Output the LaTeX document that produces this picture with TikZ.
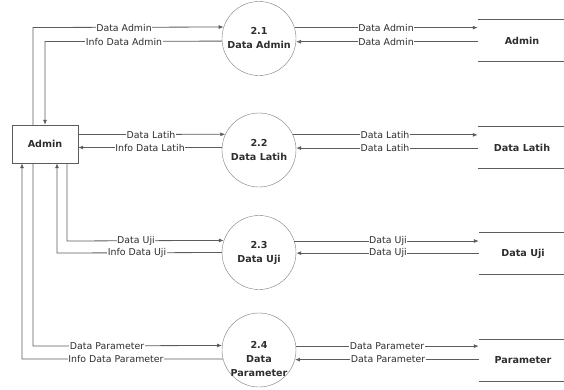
\documentclass[tikz,border=0pt]{standalone}
\usepackage{fontspec}
\setmainfont{DejaVu Sans}
\usetikzlibrary{arrows.meta}
\definecolor{linec}{HTML}{5C5C5C}
\definecolor{txtc}{HTML}{2E2E2E}
\tikzset{
  proc/.style={circle, draw=linec!80, minimum size=74pt, inner sep=0pt, align=center,
    text=txtc, font=\fontsize{9.6}{14}\selectfont\bfseries},
  ent/.style={rectangle, draw=linec, minimum width=66pt, minimum height=38pt,
    text=txtc, font=\fontsize{9.6}{12}\selectfont\bfseries},
  store/.style={minimum width=88pt, minimum height=41pt, inner sep=0pt,
    text=txtc, font=\fontsize{9.6}{12}\selectfont\bfseries},
  flow/.style={draw=linec, line width=0.8pt, -{Latex[length=5pt,width=4pt]}},
  lbl/.style={fill=white, inner sep=0.6pt, text=txtc, font=\fontsize{9.4}{11}\selectfont}
}
\begin{document}
\begin{tikzpicture}[x=1pt, y=-1pt]
      \useasboundingbox (0,0) rectangle (564,389);
      % entity and processes
      \node (admin) [ent] at (45,144) {Admin};
      \node (p1) [proc] at (259,38.5) {2.1\\Data Admin};
      \node (p2) [proc] at (259,150) {2.2\\Data Latih};
      \node (p3) [proc] at (259,252.5) {2.3\\Data Uji};
      \node (p4) [proc, label={[yshift=-9pt, align=center, text=txtc,
            font=\fontsize{9.6}{14}\selectfont\bfseries]center:2.4\\Data\\Parameter}]
            at (259,350) {};
      % data stores
      \node (s1) [store] at (522,40.5) {Admin};
      \node (s2) [store] at (522,147.5) {Data Latih};
      \node (s3) [store] at (523,253.5) {Data Uji};
      \node (s4) [store] at (523,360.5) {Parameter};
      \foreach \s in {s1,s2,s3,s4}
        \draw [linec, line width=0.8pt] (\s.north west) -- (\s.north east)
                                        (\s.south west) -- (\s.south east);
      % bends next to the entity
      \coordinate (b1) at (33,27.5);
      \coordinate (b2) at (45,41.5);
      \coordinate (b3) at (67,241);
      \coordinate (b4) at (57,253);
      \coordinate (b5) at (33,346);
      \coordinate (b6) at (22,359);
      % entity <-> processes
      \draw [flow] (admin.north -| b1) -- (b1) -- (p1.162.7);
      \draw [flow] (p1.184.65) -- (b2) -- (admin.north -| b2);
      \draw [flow] (admin.east |- 0,134.5) -- (p2.155.2);
      \draw [flow] (p2.176.1) -- (admin.east |- 0,147.5);
      \draw [flow] (admin.south -| b3) -- (b3) -- (p3.161.9);
      \draw [flow] (p3.180.8) -- (b4) -- (admin.south -| b4);
      \draw [flow] (admin.south -| b5) -- (b5) -- (p4.173.8);
      \draw [flow] (p4.194.1) -- (b6) -- (admin.south -| b6);
      % processes <-> stores
      \draw [flow] (p1.17.3) -- (p1.17.3 -| s1.west);
      \draw [flow] (s1.west |- p1.355.35) -- (p1.355.35);
      \draw [flow] (p2.24.8) -- (p2.24.8 -| s2.west);
      \draw [flow] (s2.west |- p2.3.9) -- (p2.3.9);
      \draw [flow] (p3.18.1) -- (p3.18.1 -| s3.west);
      \draw [flow] (s3.west |- p3.359.2) -- (p3.359.2);
      \draw [flow] (p4.6.2) -- (p4.6.2 -| s4.west);
      \draw [flow] (s4.west |- p4.345.9) -- (p4.345.9);
      % flow labels
      \node (l1) [lbl] at (124,27.5) {Data Admin};
      \node (l2) [lbl] at (124,41.5) {Info Data Admin};
      \node (l3) [lbl] at (151,134.5) {Data Latih};
      \node (l4) [lbl] at (150,147.5) {Info Data Latih};
      \node (l5) [lbl] at (136,241) {Data Uji};
      \node (l6) [lbl] at (137,253) {Info Data Uji};
      \node (l7) [lbl] at (107,346) {Data Parameter};
      \node (l8) [lbl] at (116,359) {Info Data Parameter};
      \node (r1) [lbl] at (386,27.5) {Data Admin};
      \node (r2) [lbl] at (386,41.5) {Data Admin};
      \node (r3) [lbl] at (385,134.5) {Data Latih};
      \node (r4) [lbl] at (385,147.5) {Data Latih};
      \node (r5) [lbl] at (388,241) {Data Uji};
      \node (r6) [lbl] at (388,253) {Data Uji};
      \node (r7) [lbl] at (387,346) {Data Parameter};
      \node (r8) [lbl] at (388,359) {Data Parameter};
\end{tikzpicture}
\end{document}
